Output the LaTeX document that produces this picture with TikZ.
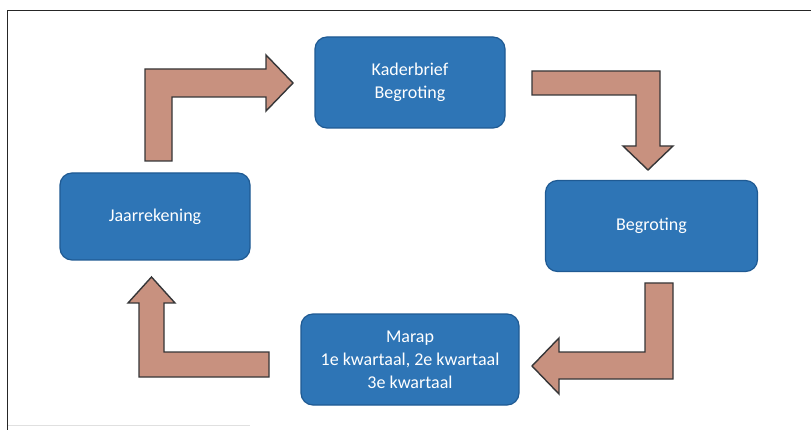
\documentclass[tikz,border=0pt]{standalone}
\usepackage{fontspec}
\setmainfont{Carlito}
\definecolor{boxblue}{HTML}{2E75B6}
\definecolor{boxedge}{HTML}{1F5A93}
\definecolor{arrowfill}{HTML}{C8917F}
\definecolor{arrowedge}{HTML}{363638}
\tikzset{
  stagebox/.style={draw=boxedge, line width=1.2pt, fill=boxblue, rounded corners=12pt,
    text=white, font=\fontsize{18}{23}\selectfont, align=center, inner sep=0pt, outer sep=0pt},
  blockarrow/.style={draw=arrowedge, line width=1.4pt, fill=arrowfill, line join=miter}
}
\begin{document}
\begin{tikzpicture}[x=1pt,y=-1pt]
\useasboundingbox (0,0) rectangle (811,430);
\fill[white] (0,0) rectangle (811,430);
% frame
\draw[line width=1.5pt, color=black!85] (7.5,430) -- (7.5,10.5) -- (811,10.5);
\draw[line width=0.6pt, color=black!12] (8,425) -- (250,425);
% stages
\node[stagebox, minimum width=190pt, minimum height=91pt] (kader) at (410,82.5) {Kaderbrief\\Begroting};
\node[stagebox, minimum width=212pt, minimum height=91pt] (begr) at (651.5,226) {Begroting};
\node[stagebox, minimum width=218pt, minimum height=91pt] (marap) at (410,359.5) {Marap\\1e kwartaal, 2e kwartaal\\3e kwartaal};
\node[stagebox, minimum width=190pt, minimum height=87pt] (jaar) at (155,216.5) {Jaarrekening};
% block arrows
\draw[blockarrow] (145,161) -- (145,69) -- (266,69) -- (266,55) -- (293,83) -- (266,111) -- (266,97) -- (172,97) -- (172,161) -- cycle;
\draw[blockarrow] (532,71) -- (660,71) -- (660,146) -- (673,146) -- (648,170) -- (623,146) -- (636,146) -- (636,95) -- (532,95) -- cycle;
\draw[blockarrow] (645,283) -- (673,283) -- (673,379) -- (559,379) -- (559,394) -- (532,366) -- (559,338) -- (559,352) -- (645,352) -- cycle;
\draw[blockarrow] (269,352) -- (269,377) -- (139,377) -- (139,303) -- (128,303) -- (151.5,277) -- (175,303) -- (164,303) -- (164,352) -- cycle;
\end{tikzpicture}
\end{document}
